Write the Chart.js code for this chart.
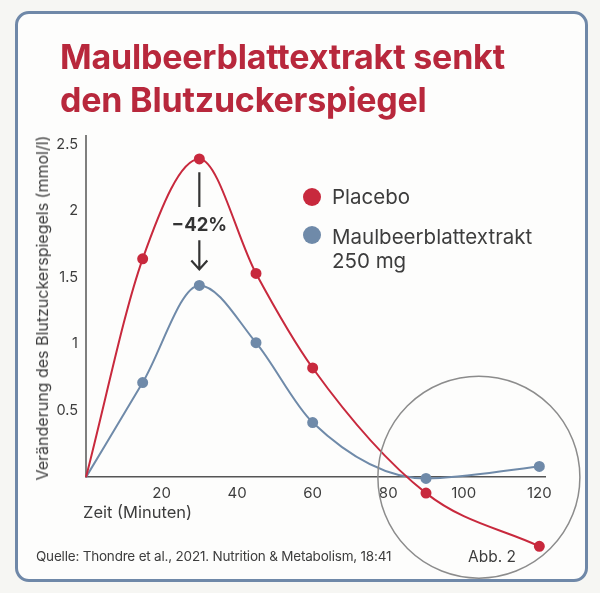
<!DOCTYPE html>
<html>
<head>
<meta charset="utf-8">
<script src="https://cdn.jsdelivr.net/npm/chart.js@4"></script>
<style>
  html, body { margin: 0; padding: 0; background: #f6f6f3; }
  #wrap { position: relative; width: 600px; height: 593px; font-family: Inter, "Noto Sans", sans-serif; color: #3d3d3d; }
  #card { position: absolute; left: 15px; top: 11px; width: 567px; height: 565px; border: 3px solid #6f88a8; border-radius: 14px; background: #fdfdfc; }
  canvas { position: absolute; left: 0; top: 0; }
  .title { position: absolute; left: 60px; color: #b8283c; font-weight: 700; font-size: 34px; letter-spacing: -0.2px; line-height: 1; white-space: nowrap; }
  .leg { position: absolute; font-size: 20.5px; line-height: 1; white-space: nowrap; }
  .dot { position: absolute; width: 18px; height: 18px; border-radius: 50%; }
  .ytitle { position: absolute; left: 42px; top: 308px; font-size: 16px; line-height: 1; white-space: nowrap; transform: translate(-50%, -50%) rotate(-90deg); }
  .xtitle { position: absolute; left: 83px; top: 504px; font-size: 16.5px; line-height: 1; white-space: nowrap; }
  .src { position: absolute; left: 36px; top: 548px; font-size: 13.5px; white-space: nowrap; letter-spacing: -0.2px; }
  .abb { position: absolute; left: 468px; top: 547px; font-size: 15.5px; white-space: nowrap; }
</style>
</head>
<body>
<div id="wrap">
  <div id="card"></div>
  <canvas id="myChart" width="600" height="593"></canvas>
  <div class="title" style="top:40px">Maulbeerblattextrakt senkt</div>
  <div class="title" style="top:83px">den Blutzuckerspiegel</div>
  <div class="dot" style="left:303px;top:188px;background:#c8293d"></div>
  <div class="leg" style="left:332px;top:187px">Placebo</div>
  <div class="dot" style="left:303px;top:226px;background:#6f8aa9"></div>
  <div class="leg" style="left:332px;top:227px">Maulbeerblattextrakt</div>
  <div class="leg" style="left:332px;top:251px">250 mg</div>
  <div class="ytitle">Veränderung des Blutzuckerspiegels (mmol/l)</div>
  <div class="xtitle">Zeit (Minuten)</div>
  <div class="src">Quelle: Thondre et al., 2021. Nutrition &amp; Metabolism, 18:41</div>
  <div class="abb">Abb. 2</div>
</div>
<script>
const minutes = [0, 15, 30, 45, 60, 90, 120];
const placebo = [0, 1.64, 2.39, 1.53, 0.82, -0.12, -0.52];
const extrakt = [0, 0.71, 1.44, 1.01, 0.41, -0.01, 0.08];
const xTicks = [20, 40, 60, 80, 100, 120];
const yTicks = [0.5, 1, 1.5, 2, 2.5];

const red = '#c8293d';
const blue = '#6f8aa9';
const axisGrey = '#555555';
const font = 'Inter, "Noto Sans", sans-serif';

// y-Achse nur ab 0, -42% Pfeil und Kreis um die letzten Messpunkte
const extras = {
  id: 'extras',
  beforeDatasetsDraw(chart) {
    const { ctx, chartArea, scales: { y } } = chart;
    ctx.save();
    ctx.strokeStyle = axisGrey;
    ctx.lineWidth = 1.5;
    ctx.beginPath();
    ctx.moveTo(chartArea.left, y.getPixelForValue(0));
    ctx.lineTo(chartArea.left, chartArea.top);
    ctx.stroke();
    ctx.restore();
  },
  afterDatasetsDraw(chart) {
    const { ctx, scales: { x, y } } = chart;
    const cx = x.getPixelForValue(30);
    ctx.save();
    ctx.strokeStyle = '#333';
    ctx.fillStyle = '#333';
    ctx.lineWidth = 2.2;
    ctx.beginPath();
    ctx.moveTo(cx, y.getPixelForValue(2.29));
    ctx.lineTo(cx, y.getPixelForValue(2.03));
    ctx.moveTo(cx, y.getPixelForValue(1.78));
    ctx.lineTo(cx, y.getPixelForValue(1.56));
    ctx.moveTo(cx - 8, y.getPixelForValue(1.56) - 9);
    ctx.lineTo(cx, y.getPixelForValue(1.56));
    ctx.lineTo(cx + 8, y.getPixelForValue(1.56) - 9);
    ctx.stroke();
    ctx.font = '700 18.5px ' + font;
    ctx.textAlign = 'center';
    ctx.textBaseline = 'middle';
    ctx.fillText('\u221242%', cx, y.getPixelForValue(1.89));

    ctx.strokeStyle = '#8c8c8c';
    ctx.lineWidth = 1.5;
    ctx.beginPath();
    ctx.arc(x.getPixelForValue(104), y.getPixelForValue(0), 101, 0, Math.PI * 2);
    ctx.stroke();
    ctx.restore();
  }
};

const ctx = document.getElementById('myChart');
new Chart(ctx, {
  type: 'line',
  data: {
    datasets: [{
      label: 'Placebo',
      data: minutes.map((m, i) => ({ x: m, y: placebo[i] })),
      borderColor: red,
      backgroundColor: red,
      borderWidth: 2,
      pointRadius: minutes.map(m => m === 0 ? 0 : 4.5),
      cubicInterpolationMode: 'monotone',
      clip: false
    }, {
      label: 'Maulbeerblattextrakt 250 mg',
      data: minutes.map((m, i) => ({ x: m, y: extrakt[i] })),
      borderColor: blue,
      backgroundColor: blue,
      borderWidth: 2,
      pointRadius: minutes.map(m => m === 0 ? 0 : 4.5),
      cubicInterpolationMode: 'monotone',
      clip: false
    }]
  },
  options: {
    responsive: false,
    animation: false,
    layout: { padding: { left: 34, right: 55, top: 135, bottom: 36 } },
    plugins: { legend: { display: false }, tooltip: { enabled: false } },
    scales: {
      x: {
        type: 'linear',
        min: 0,
        max: 121.5,
        position: { y: 0 },
        afterBuildTicks: s => { s.ticks = xTicks.map(v => ({ value: v })); },
        grid: { display: false },
        border: { color: axisGrey, width: 1.5 },
        ticks: { color: '#3d3d3d', font: { size: 15, family: font }, padding: -1 }
      },
      y: {
        min: -0.6,
        max: 2.57,
        afterFit: s => { s.width = 52; },
        afterBuildTicks: s => { s.ticks = yTicks.map(v => ({ value: v })); },
        grid: { display: false },
        border: { display: false },
        ticks: { color: '#3d3d3d', font: { size: 14.5, family: font }, padding: 0, callback: v => String(v) }
      }
    }
  },
  plugins: [extras]
});
</script>
</body>
</html>
